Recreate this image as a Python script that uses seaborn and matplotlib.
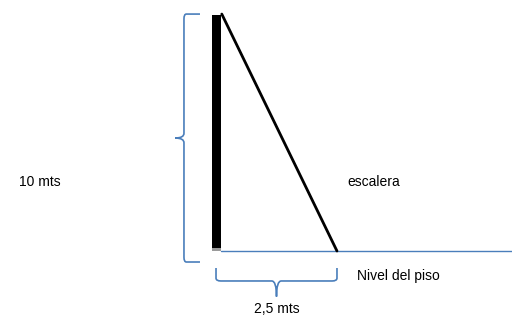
import matplotlib
matplotlib.use("Agg")
import matplotlib.pyplot as plt
from matplotlib.path import Path
from matplotlib.patches import PathPatch, Rectangle
import seaborn as sns
import pandas as pd

# diagram values (meters)
wall_height = 10.0
ladder_base = 2.5
labels = {"height": "10 mts", "base": "2,5 mts", "ladder": "escalera", "floor": "Nivel del piso"}

BLUE = "#4a7ebb"

sns.set_style("white")
plt.rcParams["font.family"] = ["Liberation Sans", "DejaVu Sans"]

fig = plt.figure(figsize=(5.12, 3.16), dpi=100)
ax = fig.add_axes([0, 0, 1, 1])
ax.set_xlim(-4.52, 6.146)
ax.set_ylim(-2.754, 10.636)
ax.axis("off")


def vbrace(ax, x_hook, x_line, x_tip, y_bot, y_top, rx=0.05, ry=0.2):
    y_mid = (y_bot + y_top) / 2
    verts = [
        (x_hook, y_top), (x_line + rx, y_top),
        (x_line, y_top), (x_line, y_top - ry),
        (x_line, y_mid + ry),
        (x_line, y_mid), (x_tip, y_mid),
        (x_line, y_mid), (x_line, y_mid - ry),
        (x_line, y_bot + ry),
        (x_line, y_bot), (x_line + rx, y_bot),
        (x_hook, y_bot),
    ]
    codes = [Path.MOVETO, Path.LINETO, Path.CURVE3, Path.CURVE3, Path.LINETO,
             Path.CURVE3, Path.CURVE3, Path.CURVE3, Path.CURVE3, Path.LINETO,
             Path.CURVE3, Path.CURVE3, Path.LINETO]
    ax.add_patch(PathPatch(Path(verts, codes), fill=False, ec=BLUE, lw=1.2))


def hbrace(ax, y_hook, y_line, y_tip, x_left, x_right, rx=0.1, ry=0.12):
    x_mid = (x_left + x_right) / 2
    verts = [
        (x_left, y_hook), (x_left, y_line + ry),
        (x_left, y_line), (x_left + rx, y_line),
        (x_mid - rx, y_line),
        (x_mid, y_line), (x_mid, y_tip),
        (x_mid, y_line), (x_mid + rx, y_line),
        (x_right - rx, y_line),
        (x_right, y_line), (x_right, y_line + ry),
        (x_right, y_hook),
    ]
    codes = [Path.MOVETO, Path.LINETO, Path.CURVE3, Path.CURVE3, Path.LINETO,
             Path.CURVE3, Path.CURVE3, Path.CURVE3, Path.CURVE3, Path.LINETO,
             Path.CURVE3, Path.CURVE3, Path.LINETO]
    ax.add_patch(PathPatch(Path(verts, codes), fill=False, ec=BLUE, lw=1.2))


# floor line
floor = pd.DataFrame({"x": [0.08, 6.2], "y": [0, 0]})
sns.lineplot(data=floor, x="x", y="y", ax=ax, color=BLUE, lw=1.0)

# wall
ax.add_patch(Rectangle((-0.104, 0), 0.19, wall_height, color="black", lw=0, zorder=3))
ax.add_patch(Rectangle((-0.104, 0), 0.19, 0.12, color="#9a9a9a", lw=0, zorder=4))

# ladder
ladder = pd.DataFrame({"x": [0.1, ladder_base], "y": [wall_height + 0.04, 0]})
sns.lineplot(data=ladder, x="x", y="y", ax=ax, color="black", lw=2.0)

# braces
vbrace(ax, -0.354, -0.6875, -0.87, -0.466, wall_height + 0.04)
hbrace(ax, -0.72, -1.27, -1.93, -0.02, ladder_base)

# text
txt = dict(fontsize=10, color="black", va="center")
ax.text(-4.125, 2.92, labels["height"], ha="left", **txt)
ax.text(2.71, 2.92, labels["ladder"], ha="left", **txt)
ax.text(2.92, -1.06, labels["floor"], ha="left", **txt)
ax.text(ladder_base / 2, -2.46, labels["base"], ha="center", **txt)

fig.savefig("out.png", dpi=100)
